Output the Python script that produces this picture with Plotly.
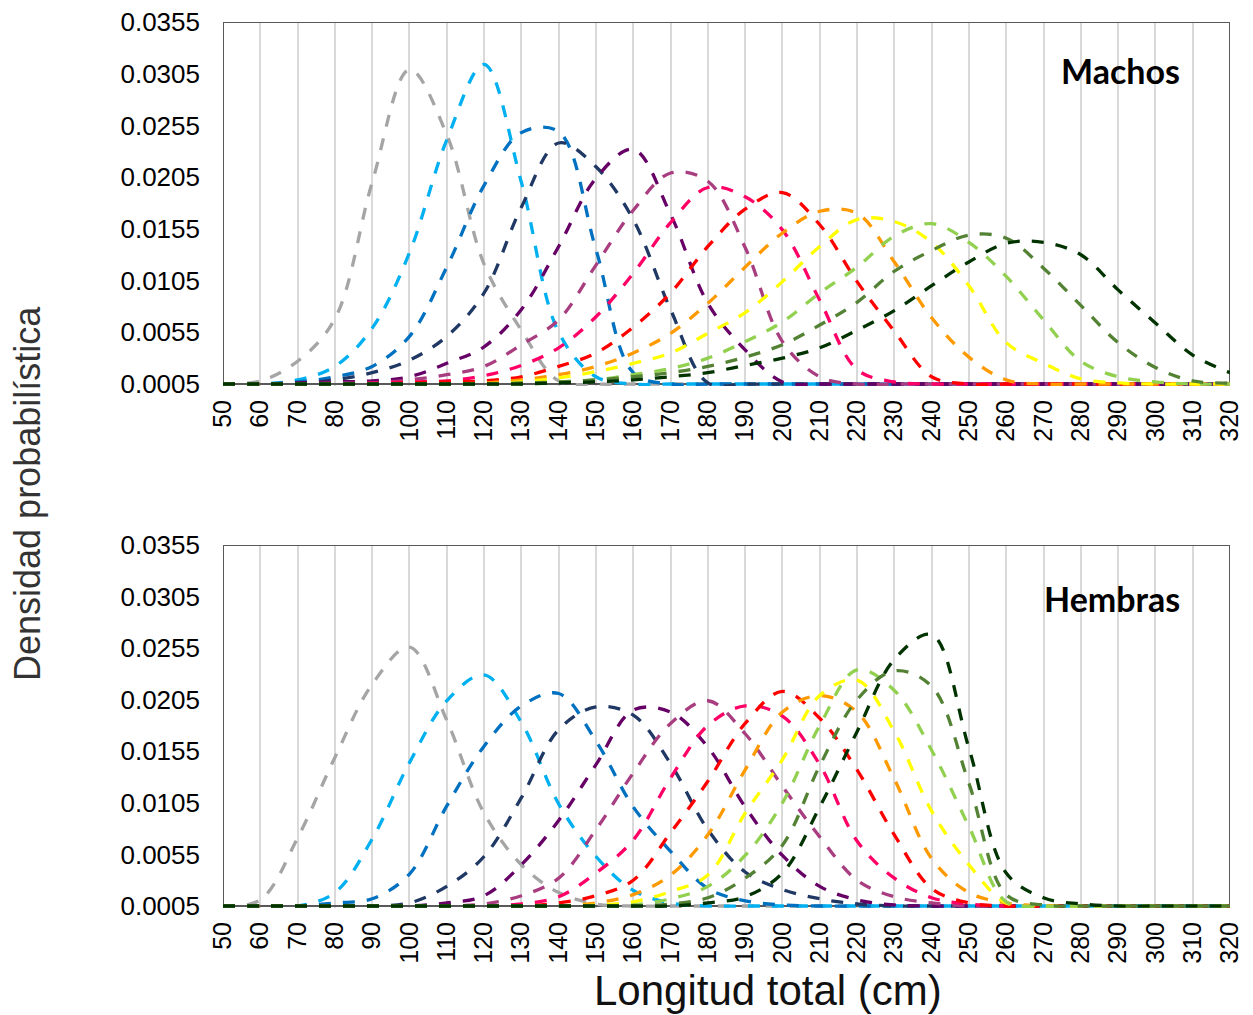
import plotly.graph_objects as go

# Total length classes (cm) on the category axis
longitud = [50, 60, 70, 80, 90, 100, 110, 120, 130, 140, 150, 160, 170, 180,
            190, 200, 210, 220, 230, 240, 250, 260, 270, 280, 290, 300, 310, 320]

# Density axis ticks
y_ticks = [0.0005, 0.0055, 0.0105, 0.0155, 0.0205, 0.0255, 0.0305, 0.0355]
y_ticktext = ["0.0005", "0.0055", "0.0105", "0.0155", "0.0205", "0.0255", "0.0305", "0.0355"]

# Line colour of each age class, youngest to oldest
colores = ["#A5A5A5", "#00B0F0", "#0070C0", "#203864", "#660066", "#A83D80", "#FF0066",
           "#FF0000", "#FF9900", "#FFFF00", "#92D050", "#548235", "#003300"]

# ---- Machos: density of each age class per length class ----
m_edad1 = [0.0005, 0.0008, 0.0027, 0.0068, 0.0200, 0.0309, 0.0246, 0.0121, 0.0057, 0.0008,
           0.0005, 0.0005, 0.0005, 0.0005, 0.0005, 0.0005, 0.0005, 0.0005, 0.0005, 0.0005,
           0.0005, 0.0005, 0.0005, 0.0005, 0.0005, 0.0005, 0.0005, 0.0005]
m_edad2 = [0.0005, 0.0005, 0.0009, 0.0022, 0.0059, 0.0132, 0.0241, 0.0314, 0.0200, 0.0055,
           0.0012, 0.0005, 0.0005, 0.0005, 0.0005, 0.0005, 0.0005, 0.0005, 0.0005, 0.0005,
           0.0005, 0.0005, 0.0005, 0.0005, 0.0005, 0.0005, 0.0005, 0.0005]
m_edad3 = [0.0005, 0.0005, 0.0007, 0.0012, 0.0022, 0.0051, 0.0118, 0.0197, 0.0248, 0.0249,
           0.0135, 0.0016, 0.0005, 0.0005, 0.0005, 0.0005, 0.0005, 0.0005, 0.0005, 0.0005,
           0.0005, 0.0005, 0.0005, 0.0005, 0.0005, 0.0005, 0.0005, 0.0005]
m_edad4 = [0.0005, 0.0005, 0.0006, 0.0009, 0.0016, 0.0028, 0.0051, 0.0093, 0.0176, 0.0238,
           0.0215, 0.0164, 0.0077, 0.0006, 0.0005, 0.0005, 0.0005, 0.0005, 0.0005, 0.0005,
           0.0005, 0.0005, 0.0005, 0.0005, 0.0005, 0.0005, 0.0005, 0.0005]
m_edad5 = [0.0005, 0.0005, 0.0006, 0.0007, 0.0008, 0.0012, 0.0025, 0.0041, 0.0077, 0.0138,
           0.0204, 0.0232, 0.0169, 0.0083, 0.0038, 0.0007, 0.0005, 0.0005, 0.0005, 0.0005,
           0.0005, 0.0005, 0.0005, 0.0005, 0.0005, 0.0005, 0.0005, 0.0005]
m_edad6 = [0.0005, 0.0005, 0.0005, 0.0006, 0.0006, 0.0009, 0.0014, 0.0022, 0.0043, 0.0067,
           0.0120, 0.0173, 0.0209, 0.0201, 0.0137, 0.0046, 0.0012, 0.0005, 0.0005, 0.0005,
           0.0005, 0.0005, 0.0005, 0.0005, 0.0005, 0.0005, 0.0005, 0.0005]
m_edad7 = [0.0005, 0.0005, 0.0005, 0.0005, 0.0006, 0.0007, 0.0008, 0.0013, 0.0023, 0.0040,
           0.0070, 0.0112, 0.0161, 0.0195, 0.0186, 0.0154, 0.0086, 0.0019, 0.0007, 0.0005,
           0.0005, 0.0005, 0.0005, 0.0005, 0.0005, 0.0005, 0.0005, 0.0005]
m_edad8 = [0.0005, 0.0005, 0.0005, 0.0005, 0.0005, 0.0006, 0.0007, 0.0008, 0.0012, 0.0022,
           0.0035, 0.0060, 0.0093, 0.0138, 0.0174, 0.0190, 0.0159, 0.0104, 0.0056, 0.0012,
           0.0005, 0.0005, 0.0005, 0.0005, 0.0005, 0.0005, 0.0005, 0.0005]
m_edad9 = [0.0005, 0.0005, 0.0005, 0.0005, 0.0005, 0.0005, 0.0005, 0.0006, 0.0009, 0.0014,
           0.0022, 0.0035, 0.0054, 0.0083, 0.0118, 0.0151, 0.0172, 0.0170, 0.0123, 0.0069,
           0.0031, 0.0009, 0.0005, 0.0005, 0.0005, 0.0005, 0.0005, 0.0005]
m_edad10 = [0.0005, 0.0005, 0.0005, 0.0005, 0.0005, 0.0005, 0.0005, 0.0005, 0.0007, 0.0011,
            0.0017, 0.0025, 0.0035, 0.0054, 0.0074, 0.0104, 0.0138, 0.0164, 0.0162, 0.0142,
            0.0100, 0.0045, 0.0025, 0.0010, 0.0006, 0.0005, 0.0005, 0.0005]
m_edad11 = [0.0005, 0.0005, 0.0005, 0.0005, 0.0005, 0.0005, 0.0005, 0.0005, 0.0005, 0.0007,
            0.0009, 0.0014, 0.0020, 0.0030, 0.0046, 0.0065, 0.0093, 0.0118, 0.0148, 0.0160,
            0.0142, 0.0109, 0.0067, 0.0027, 0.0012, 0.0007, 0.0005, 0.0005]
m_edad12 = [0.0005, 0.0005, 0.0005, 0.0005, 0.0005, 0.0005, 0.0005, 0.0005, 0.0006, 0.0007,
            0.0009, 0.0012, 0.0016, 0.0022, 0.0031, 0.0043, 0.0062, 0.0084, 0.0114, 0.0134,
            0.0149, 0.0146, 0.0117, 0.0081, 0.0045, 0.0021, 0.0008, 0.0006]
m_edad13 = [0.0005, 0.0005, 0.0005, 0.0005, 0.0005, 0.0005, 0.0005, 0.0005, 0.0005, 0.0006,
            0.0007, 0.0009, 0.0012, 0.0016, 0.0023, 0.0030, 0.0040, 0.0057, 0.0076, 0.0100,
            0.0123, 0.0141, 0.0142, 0.0130, 0.0096, 0.0064, 0.0033, 0.0016]

# ---- Hembras ----
h_edad1 = [0.0005, 0.0011, 0.0071, 0.0149, 0.0220, 0.0256, 0.0185, 0.0095, 0.0045, 0.0018,
           0.0007, 0.0005, 0.0005, 0.0005, 0.0005, 0.0005, 0.0005, 0.0005, 0.0005, 0.0005,
           0.0005, 0.0005, 0.0005, 0.0005, 0.0005, 0.0005, 0.0005, 0.0005]
h_edad2 = [0.0005, 0.0005, 0.0005, 0.0018, 0.0070, 0.0144, 0.0204, 0.0229, 0.0183, 0.0104,
           0.0053, 0.0020, 0.0008, 0.0005, 0.0005, 0.0005, 0.0005, 0.0005, 0.0005, 0.0005,
           0.0005, 0.0005, 0.0005, 0.0005, 0.0005, 0.0005, 0.0005, 0.0005]
h_edad3 = [0.0005, 0.0005, 0.0005, 0.0008, 0.0012, 0.0036, 0.0102, 0.0160, 0.0199, 0.0211,
           0.0165, 0.0101, 0.0058, 0.0022, 0.0010, 0.0006, 0.0005, 0.0005, 0.0005, 0.0005,
           0.0005, 0.0005, 0.0005, 0.0005, 0.0005, 0.0005, 0.0005, 0.0005]
h_edad4 = [0.0005, 0.0005, 0.0005, 0.0005, 0.0005, 0.0008, 0.0024, 0.0053, 0.0110, 0.0176,
           0.0198, 0.0190, 0.0143, 0.0079, 0.0038, 0.0021, 0.0012, 0.0007, 0.0005, 0.0005,
           0.0005, 0.0005, 0.0005, 0.0005, 0.0005, 0.0005, 0.0005, 0.0005]
h_edad5 = [0.0005, 0.0005, 0.0005, 0.0005, 0.0005, 0.0005, 0.0008, 0.0015, 0.0045, 0.0088,
           0.0142, 0.0195, 0.0193, 0.0159, 0.0101, 0.0054, 0.0024, 0.0011, 0.0006, 0.0005,
           0.0005, 0.0005, 0.0005, 0.0005, 0.0005, 0.0005, 0.0005, 0.0005]
h_edad6 = [0.0005, 0.0005, 0.0005, 0.0005, 0.0005, 0.0005, 0.0005, 0.0007, 0.0015, 0.0032,
           0.0079, 0.0134, 0.0182, 0.0204, 0.0172, 0.0121, 0.0072, 0.0030, 0.0014, 0.0008,
           0.0005, 0.0005, 0.0005, 0.0005, 0.0005, 0.0005, 0.0005, 0.0005]
h_edad7 = [0.0005, 0.0005, 0.0005, 0.0005, 0.0005, 0.0005, 0.0005, 0.0005, 0.0007, 0.0014,
           0.0037, 0.0069, 0.0129, 0.0180, 0.0199, 0.0189, 0.0142, 0.0068, 0.0032, 0.0013,
           0.0007, 0.0005, 0.0005, 0.0005, 0.0005, 0.0005, 0.0005, 0.0005]
h_edad8 = [0.0005, 0.0005, 0.0005, 0.0005, 0.0005, 0.0005, 0.0005, 0.0005, 0.0005, 0.0008,
           0.0015, 0.0030, 0.0076, 0.0126, 0.0182, 0.0213, 0.0187, 0.0137, 0.0074, 0.0022,
           0.0008, 0.0005, 0.0005, 0.0005, 0.0005, 0.0005, 0.0005, 0.0005]
h_edad9 = [0.0005, 0.0005, 0.0005, 0.0005, 0.0005, 0.0005, 0.0005, 0.0005, 0.0005, 0.0005,
           0.0008, 0.0016, 0.0035, 0.0074, 0.0137, 0.0193, 0.0209, 0.0193, 0.0128, 0.0051,
           0.0018, 0.0008, 0.0005, 0.0005, 0.0005, 0.0005, 0.0005, 0.0005]
h_edad10 = [0.0005, 0.0005, 0.0005, 0.0005, 0.0005, 0.0005, 0.0005, 0.0005, 0.0005, 0.0005,
            0.0006, 0.0009, 0.0019, 0.0035, 0.0095, 0.0147, 0.0209, 0.0224, 0.0174, 0.0097,
            0.0045, 0.0008, 0.0005, 0.0005, 0.0005, 0.0005, 0.0005, 0.0005]
h_edad11 = [0.0005, 0.0005, 0.0005, 0.0005, 0.0005, 0.0005, 0.0005, 0.0005, 0.0005, 0.0005,
            0.0005, 0.0006, 0.0012, 0.0024, 0.0054, 0.0105, 0.0180, 0.0234, 0.0214, 0.0156,
            0.0082, 0.0009, 0.0005, 0.0005, 0.0005, 0.0005, 0.0005, 0.0005]
h_edad12 = [0.0005, 0.0005, 0.0005, 0.0005, 0.0005, 0.0005, 0.0005, 0.0005, 0.0005, 0.0005,
            0.0005, 0.0005, 0.0007, 0.0013, 0.0032, 0.0064, 0.0141, 0.0205, 0.0233, 0.0218,
            0.0124, 0.0016, 0.0006, 0.0005, 0.0005, 0.0005, 0.0005, 0.0005]
h_edad13 = [0.0005, 0.0005, 0.0005, 0.0005, 0.0005, 0.0005, 0.0005, 0.0005, 0.0005, 0.0005,
            0.0005, 0.0005, 0.0005, 0.0008, 0.0014, 0.0037, 0.0101, 0.0174, 0.0244, 0.0268,
            0.0158, 0.0037, 0.0013, 0.0007, 0.0005, 0.0005, 0.0005, 0.0005]

machos = [m_edad1, m_edad2, m_edad3, m_edad4, m_edad5, m_edad6, m_edad7,
          m_edad8, m_edad9, m_edad10, m_edad11, m_edad12, m_edad13]
hembras = [h_edad1, h_edad2, h_edad3, h_edad4, h_edad5, h_edad6, h_edad7,
           h_edad8, h_edad9, h_edad10, h_edad11, h_edad12, h_edad13]

W, H = 1253, 1015
X0, X1 = 223, 1230          # plot area left / right (px)
PANELS = [(22, 384), (545, 906)]  # top / axis-line rows (px) of each panel
EXTRA = 2                    # px kept below the axis line so lines on it are not cut

Y_MIN, Y_MAX = 0.0005, 0.0355
FONT = "Liberation Sans, Arial, sans-serif"

fig = go.Figure()

for serie_set, axn in [(machos, ""), (hembras, "2")]:
    for vals, col in zip(serie_set, colores):
        fig.add_trace(go.Scatter(
            x=longitud, y=vals, mode="lines",
            line=dict(color=col, width=3.3, dash="12px,12px", shape="spline", smoothing=1),
            xaxis="x" + axn, yaxis="y" + axn, showlegend=False, hoverinfo="skip"))

layout_axes = {}
for k, (top, bot) in enumerate(PANELS):
    axn = "" if k == 0 else str(k + 1)
    px = bot - top
    pad = (Y_MAX - Y_MIN) * EXTRA / px
    layout_axes["xaxis" + axn] = dict(
        domain=[X0 / W, X1 / W], range=[50, 320], tickmode="array", tickvals=longitud,
        ticktext=[str(v) for v in longitud], tickangle=-90, showgrid=True,
        gridcolor="#D9D9D9", gridwidth=1.5, showline=False, zeroline=False, ticks="",
        ticklabelstandoff=8, tickfont=dict(family=FONT, size=25, color="#000000"),
        anchor="y" + axn, automargin=False, fixedrange=True)
    layout_axes["yaxis" + axn] = dict(
        domain=[1 - (bot + EXTRA) / H, 1 - top / H], range=[Y_MIN - pad, Y_MAX],
        tickmode="array", tickvals=y_ticks, ticktext=y_ticktext, showgrid=False,
        showline=False, zeroline=False, ticks="", ticklabelstandoff=22,
        tickfont=dict(family=FONT, size=26, color="#000000"), anchor="x" + axn,
        automargin=False, fixedrange=True)

shapes = []
for axn in ["", "2"]:
    shapes.append(dict(type="rect", xref="x" + axn, yref="y" + axn, x0=50, x1=320,
                       y0=Y_MIN, y1=Y_MAX, line=dict(color="#595959", width=2),
                       layer="between"))

annotations = [
    dict(text="Machos", x=1182 / W, y=1 - 70 / H, xref="paper", yref="paper",
         xanchor="right", yanchor="middle", showarrow=False,
         font=dict(family="Lato, Open Sans, sans-serif", size=34, color="#000000", weight="bold")),
    dict(text="Hembras", x=1182 / W, y=1 - 598 / H, xref="paper", yref="paper",
         xanchor="right", yanchor="middle", showarrow=False,
         font=dict(family="Lato, Open Sans, sans-serif", size=34, color="#000000", weight="bold")),
    dict(text="Densidad probabilística", x=27 / W, y=1 - 494 / H, xref="paper", yref="paper",
         xanchor="center", yanchor="middle", textangle=-90, showarrow=False,
         font=dict(family=FONT, size=36, color="#333333")),
    dict(text="Longitud total (cm)", x=768 / W, y=1 - 990 / H, xref="paper", yref="paper",
         xanchor="center", yanchor="middle", showarrow=False,
         font=dict(family=FONT, size=42, color="#111111")),
]

fig.update_layout(
    width=W, height=H, autosize=False,
    margin=dict(l=0, r=0, t=0, b=0, pad=0, autoexpand=False),
    paper_bgcolor="#FFFFFF", plot_bgcolor="#FFFFFF",
    shapes=shapes, annotations=annotations, showlegend=False,
    **layout_axes)

fig.write_html("out.html", config={"displayModeBar": False})
